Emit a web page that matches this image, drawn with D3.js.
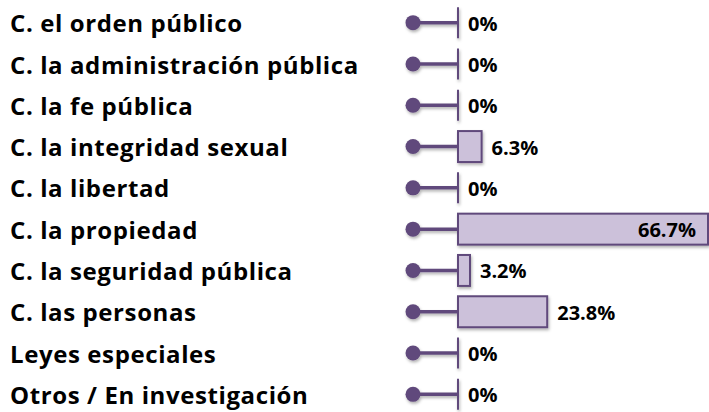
<!DOCTYPE html>
<html>
<head>
<meta charset="utf-8">
<script src="https://cdn.jsdelivr.net/npm/d3@7"></script>
<style>
  body { margin: 0; background: #fff; }
  svg { display: block; font-family: "Open Sans", "Noto Sans", sans-serif; }
</style>
</head>
<body>
<svg id="chart" width="709" height="412"></svg>
<script>
// categorías y valores (%)
const categorias = [
  "C. el orden público",
  "C. la administración pública",
  "C. la fe pública",
  "C. la integridad sexual",
  "C. la libertad",
  "C. la propiedad",
  "C. la seguridad pública",
  "C. las personas",
  "Leyes especiales",
  "Otros / En investigación"
];
const valores = [0, 0, 0, 6.3, 0, 66.7, 3.2, 23.8, 0, 0];

const data = categorias.map((c, i) => ({ cat: c, val: valores[i] }));

const svg = d3.select("#chart");
const oscuro = "#604a7b", claro = "#ccc1da";

// sombra
const defs = svg.append("defs");
defs.append("filter").attr("id", "sombra")
  .attr("x", "-20%").attr("y", "-40%").attr("width", "150%").attr("height", "200%")
  .append("feDropShadow")
    .attr("dx", 1).attr("dy", 2).attr("stdDeviation", 1.5)
    .attr("flood-color", "#000").attr("flood-opacity", 0.3);

const y = d3.scaleBand()
  .domain(categorias)
  .range([2, 415])
  .paddingInner(0.25)
  .paddingOuter(0.125);

const x = d3.scaleLinear()
  .domain([0, 66.7])
  .range([458, 708]);

const xDot = 413;
const cy = d => y(d.cat) + y.bandwidth() / 2;

// etiquetas de categoría
svg.selectAll("text.cat")
  .data(data)
  .enter().append("text")
    .attr("class", "cat")
    .attr("x", 10)
    .attr("y", cy)
    .attr("dy", "0.4em")
    .style("font-size", "24px")
    .style("letter-spacing", "0.6px")
    .style("font-weight", "bold")
    .style("fill", "#000")
    .text(d => d.cat);

const fila = svg.selectAll("g.fila")
  .data(data)
  .enter().append("g")
    .attr("class", "fila")
    .attr("filter", "url(#sombra)");

// tallo
fila.append("line")
  .attr("x1", xDot).attr("x2", x(0))
  .attr("y1", cy).attr("y2", cy)
  .attr("stroke", oscuro)
  .attr("stroke-width", 3.5);

// punto
fila.append("circle")
  .attr("cx", xDot)
  .attr("cy", cy)
  .attr("r", 7.5)
  .attr("fill", oscuro);

// barra
fila.filter(d => d.val > 0).append("rect")
  .attr("x", x(0))
  .attr("y", d => y(d.cat))
  .attr("width", d => x(d.val) - x(0))
  .attr("height", y.bandwidth())
  .attr("fill", claro)
  .attr("stroke", oscuro)
  .attr("stroke-width", 2);

// línea cero para valores nulos
fila.filter(d => d.val === 0).append("line")
  .attr("x1", x(0)).attr("x2", x(0))
  .attr("y1", d => y(d.cat))
  .attr("y2", d => y(d.cat) + y.bandwidth())
  .attr("stroke", oscuro)
  .attr("stroke-width", 2);

// valores
svg.selectAll("text.valor")
  .data(data)
  .enter().append("text")
    .attr("class", "valor")
    .attr("x", d => d.val > 50 ? x(d.val) - 12 : x(d.val) + 10)
    .attr("y", cy)
    .attr("dy", "0.4em")
    .attr("text-anchor", d => d.val > 50 ? "end" : "start")
    .style("font-size", "20px")
    .style("font-weight", "bold")
    .style("fill", "#000")
    .text(d => (d.val === 0 ? "0" : d.val.toFixed(1)) + "%");
</script>
</body>
</html>
